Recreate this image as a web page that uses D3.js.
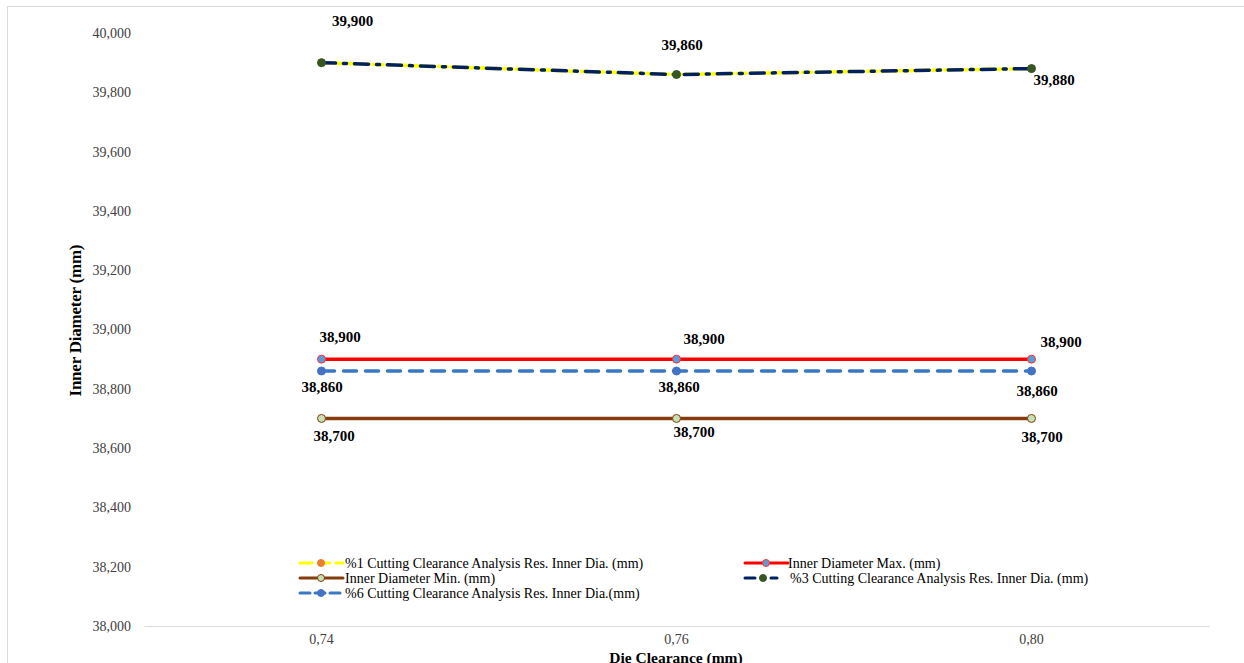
<!DOCTYPE html>
<html>
<head>
<meta charset="utf-8">
<script src="https://cdn.jsdelivr.net/npm/d3@7"></script>
<style>
  html, body { margin: 0; padding: 0; background: #fff; }
  svg { display: block; }
</style>
</head>
<body>
<svg id="chart" width="1244" height="663"></svg>
<script>
// Die clearance categories (mm)
const categories = ["0,74", "0,76", "0,80"];

// Measured / limit inner diameters (mm)
const cut1 = [39.900, 39.860, 39.880];
const dMax = [38.900, 38.900, 38.900];
const dMin = [38.700, 38.700, 38.700];
const cut3 = [39.900, 39.860, 39.880];
const cut6 = [38.860, 38.860, 38.860];

const yTicks = [38.0, 38.2, 38.4, 38.6, 38.8, 39.0, 39.2, 39.4, 39.6, 39.8, 40.0];

const svg = d3.select("#chart");
const W = 1244, H = 663;
const plot = { left: 144, right: 1209, top: 33, bottom: 626 };

const fmt = v => d3.format(",.3f")(v).replace(".", ",");
const fmtTick = v => {
  const [a, b] = d3.format(".3f")(v).split(".");
  return a + "," + b;
};

// outer chart frame
svg.append("rect")
  .attr("x", 7.5).attr("y", 6.5)
  .attr("width", W).attr("height", H)
  .attr("fill", "none").attr("stroke", "#d9d9d9").attr("stroke-width", 1);

const x = d3.scaleBand().domain(categories).range([plot.left, plot.right]).paddingInner(0).paddingOuter(0);
const xc = c => x(c) + x.bandwidth() / 2;
const y = d3.scaleLinear().domain([38.0, 40.0]).range([plot.bottom, plot.top]);

const serif = "'Liberation Serif', 'Times New Roman', serif";

// y axis (labels only)
const yAxis = d3.axisLeft(y).tickValues(yTicks).tickFormat(fmtTick).tickSize(0).tickPadding(13);
const gy = svg.append("g").attr("transform", `translate(${plot.left},0)`).call(yAxis);
gy.select(".domain").remove();
gy.selectAll("text").attr("font-family", serif).attr("font-size", 14).attr("fill", "#404040");

// x axis
const xAxis = d3.axisBottom(x).tickSize(0).tickPadding(8);
const gx = svg.append("g").attr("transform", `translate(0,${plot.bottom})`).call(xAxis);
gx.select(".domain").attr("stroke", "#d9d9d9").attr("stroke-width", 1);
gx.selectAll("text").attr("font-family", serif).attr("font-size", 14).attr("fill", "#404040");

// axis titles
svg.append("text")
  .attr("x", 676).attr("y", 663)
  .attr("text-anchor", "middle")
  .attr("font-family", serif).attr("font-size", 15.5).attr("font-weight", "bold")
  .attr("fill", "#000").text("Die Clearance (mm)");

svg.append("text")
  .attr("transform", `translate(81,${(plot.top + plot.bottom) / 2 - 9}) rotate(-90)`)
  .attr("text-anchor", "middle")
  .attr("font-family", serif).attr("font-size", 17).attr("font-weight", "bold")
  .attr("textLength", 152).attr("lengthAdjust", "spacing")
  .attr("fill", "#000").text("Inner Diameter (mm)");

const line = d3.line().x((d, i) => xc(categories[i])).y(d => y(d));

const series = [
  { name: "%1 Cutting Clearance Analysis Res. Inner Dia. (mm)", values: cut1,
    stroke: "#ffff00", width: 3.5, dash: "9,4", legendDash: "12,6",
    mFill: "#ed7d31", mStroke: "#ed7d31", r: 3.5, legendGap: 45 },
  { name: "Inner Diameter Max. (mm)", values: dMax,
    stroke: "#ff0000", width: 3.5, dash: null, legendDash: null,
    mFill: "#5b9bd5", mStroke: "#ff3333", r: 4, legendGap: 43 },
  { name: "Inner Diameter Min. (mm)", values: dMin,
    stroke: "#843c0c", width: 3.5, dash: null, legendDash: null,
    mFill: "#c5e0b4", mStroke: "#843c0c", r: 4, legendGap: 45 },
  { name: "%3 Cutting Clearance Analysis Res. Inner Dia. (mm)", values: cut3,
    stroke: "#002060", width: 3.5, dash: "14,8,3,8", legendDash: "10,7,2,7",
    mFill: "#375623", mStroke: "#375623", r: 4, legendGap: 45 },
  { name: "%6 Cutting Clearance Analysis Res. Inner Dia.(mm)", values: cut6,
    stroke: "#3a78c3", width: 3.5, dash: "13,9", legendDash: "10,5",
    mFill: "#4472c4", mStroke: "#4472c4", r: 4, legendGap: 45 }
];

// draw order: %1 yellow first so the %3 dash-dot sits over it
const drawOrder = [0, 2, 4, 1, 3];
drawOrder.forEach(k => {
  const s = series[k];
  const g = svg.append("g");
  g.append("path").datum(s.values)
    .attr("d", line)
    .attr("fill", "none")
    .attr("stroke", s.stroke).attr("stroke-width", s.width)
    .attr("stroke-dasharray", s.dash)
    .attr("stroke-linecap", s.dash ? "round" : "butt");
  g.selectAll("circle").data(s.values).join("circle")
    .attr("cx", (d, i) => xc(categories[i])).attr("cy", d => y(d))
    .attr("r", s.r)
    .attr("fill", s.mFill).attr("stroke", s.mStroke).attr("stroke-width", 1);
});

// data labels, each with a (dx, dy) offset of its centre from the point
const labelSets = [
  { values: cut3, offs: [[31, -42], [5.5, -29.5], [22.5, 11.5]] },
  { values: dMax, offs: [[18.5, -22], [27.5, -20], [29.5, -17]] },
  { values: cut6, offs: [[0.5, 16], [2.5, 16], [5.5, 20]] },
  { values: dMin, offs: [[12.5, 17.5], [17.5, 13.5], [10.5, 18.5]] }
];
labelSets.forEach(ls => {
  ls.values.forEach((v, i) => {
    svg.append("text")
      .attr("x", xc(categories[i]) + ls.offs[i][0])
      .attr("y", y(v) + ls.offs[i][1])
      .attr("dy", "0.35em")
      .attr("font-family", serif).attr("font-size", 15)
      .attr("font-weight", "bold").attr("fill", "#000").attr("text-anchor", "middle")
      .text(fmt(v));
  });
});

// legend, two columns
const legend = svg.append("g");
const legendPos = [
  [300, 563], [745, 563],
  [300, 578], [745, 578],
  [300, 593]
];
series.forEach((s, k) => {
  const [lx, ly] = legendPos[k];
  const g = legend.append("g").attr("transform", `translate(${lx},${ly})`);
  const len = k === 3 ? 32 : 43;
  g.append("line").attr("x1", 0).attr("x2", len).attr("y1", 0).attr("y2", 0)
    .attr("stroke", s.stroke).attr("stroke-width", 3)
    .attr("stroke-dasharray", s.legendDash)
    .attr("stroke-linecap", "round");
  g.append("circle").attr("cx", k === 3 ? 18 : 21).attr("cy", 0).attr("r", 3.5)
    .attr("fill", s.mFill).attr("stroke", s.mStroke).attr("stroke-width", 1);
  g.append("text").attr("x", s.legendGap).attr("y", 4.5)
    .attr("font-family", serif).attr("font-size", 14).attr("fill", "#000")
    .text(s.name);
});
</script>
</body>
</html>
